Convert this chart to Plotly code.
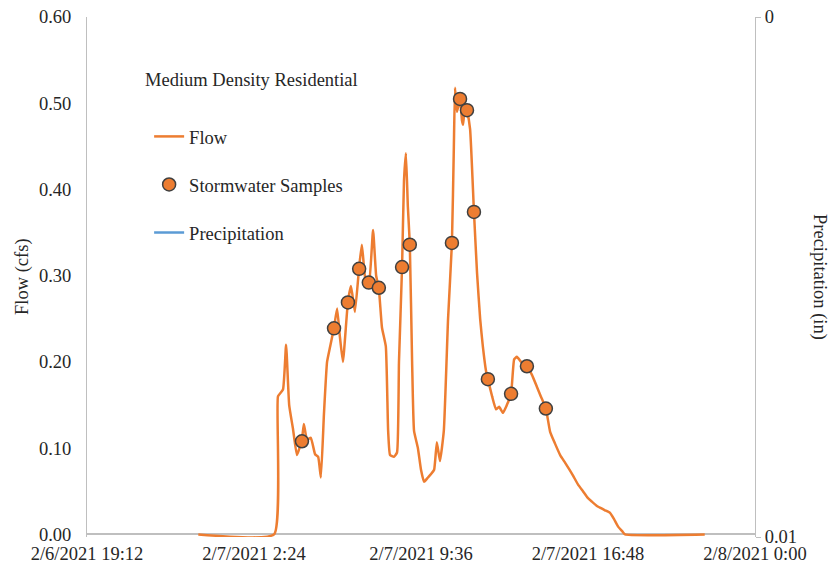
import plotly.graph_objects as go

# Flow time series (2/7/2021 times)
flow_times = ["2021-02-07 00:00", "2021-02-07 03:16", "2021-02-07 03:26", "2021-02-07 03:39", "2021-02-07 03:47",
              "2021-02-07 03:55", "2021-02-07 04:05", "2021-02-07 04:15", "2021-02-07 04:28", "2021-02-07 04:33",
              "2021-02-07 04:41", "2021-02-07 04:51", "2021-02-07 05:02", "2021-02-07 05:10", "2021-02-07 05:17",
              "2021-02-07 05:25", "2021-02-07 05:33", "2021-02-07 05:41", "2021-02-07 05:51", "2021-02-07 05:59",
              "2021-02-07 06:06", "2021-02-07 06:14", "2021-02-07 06:27", "2021-02-07 06:35", "2021-02-07 06:45",
              "2021-02-07 06:56", "2021-02-07 07:03", "2021-02-07 07:14", "2021-02-07 07:21", "2021-02-07 07:32",
              "2021-02-07 07:40", "2021-02-07 07:47", "2021-02-07 07:55", "2021-02-07 08:05", "2021-02-07 08:11",
              "2021-02-07 08:16", "2021-02-07 08:26", "2021-02-07 08:34", "2021-02-07 08:39", "2021-02-07 08:47",
              "2021-02-07 08:52", "2021-02-07 08:57", "2021-02-07 09:02", "2021-02-07 09:07", "2021-02-07 09:13",
              "2021-02-07 09:18", "2021-02-07 09:28", "2021-02-07 09:36", "2021-02-07 09:44", "2021-02-07 09:54",
              "2021-02-07 10:02", "2021-02-07 10:10", "2021-02-07 10:17", "2021-02-07 10:25", "2021-02-07 10:35",
              "2021-02-07 10:46", "2021-02-07 10:56", "2021-02-07 11:01", "2021-02-07 11:04", "2021-02-07 11:09",
              "2021-02-07 11:17", "2021-02-07 11:22", "2021-02-07 11:25", "2021-02-07 11:30", "2021-02-07 11:35",
              "2021-02-07 11:43", "2021-02-07 11:53", "2021-02-07 12:01", "2021-02-07 12:09", "2021-02-07 12:16",
              "2021-02-07 12:24", "2021-02-07 12:29", "2021-02-07 12:40", "2021-02-07 12:50", "2021-02-07 12:58",
              "2021-02-07 13:08", "2021-02-07 13:18", "2021-02-07 13:29", "2021-02-07 13:37", "2021-02-07 13:44",
              "2021-02-07 13:55", "2021-02-07 14:10", "2021-02-07 14:23", "2021-02-07 14:36", "2021-02-07 14:46",
              "2021-02-07 14:59", "2021-02-07 15:10", "2021-02-07 15:23", "2021-02-07 15:36", "2021-02-07 15:49",
              "2021-02-07 16:07", "2021-02-07 16:22", "2021-02-07 16:35", "2021-02-07 16:48", "2021-02-07 16:58",
              "2021-02-07 17:11", "2021-02-07 17:19", "2021-02-07 17:32", "2021-02-07 17:45", "2021-02-07 17:55",
              "2021-02-07 18:06", "2021-02-07 18:16", "2021-02-07 18:24", "2021-02-07 21:50"]
flow_values = [0, 0, 0.16, 0.168, 0.22,
               0.15, 0.122, 0.092, 0.11, 0.128,
               0.11, 0.112, 0.093, 0.09, 0.066,
               0.14, 0.2, 0.218, 0.24, 0.262,
               0.23, 0.2, 0.27, 0.288, 0.258,
               0.31, 0.336, 0.29, 0.29, 0.353,
               0.3, 0.285, 0.24, 0.218, 0.12,
               0.092, 0.09, 0.095, 0.2, 0.31,
               0.41, 0.442, 0.38, 0.337, 0.2,
               0.12, 0.1, 0.075, 0.061, 0.066,
               0.07, 0.075, 0.107, 0.085, 0.12,
               0.25, 0.338, 0.45, 0.518, 0.49,
               0.505, 0.48, 0.475, 0.5, 0.492,
               0.47, 0.374, 0.303, 0.25, 0.218,
               0.19, 0.18, 0.16, 0.145, 0.148,
               0.141, 0.15, 0.163, 0.203, 0.206,
               0.2, 0.195, 0.185, 0.171, 0.16,
               0.146, 0.119, 0.105, 0.092, 0.083,
               0.07, 0.058, 0.05, 0.042, 0.038,
               0.033, 0.031, 0.028, 0.025, 0.018,
               0.009, 0.004, 0, 0]

sample_times = ["2021-02-07 04:28", "2021-02-07 05:51", "2021-02-07 06:27", "2021-02-07 06:56",
                "2021-02-07 07:21", "2021-02-07 07:47", "2021-02-07 08:47", "2021-02-07 09:07",
                "2021-02-07 10:56", "2021-02-07 11:17", "2021-02-07 11:35", "2021-02-07 11:53",
                "2021-02-07 12:29", "2021-02-07 13:29", "2021-02-07 14:10", "2021-02-07 14:59"]
sample_values = [0.108, 0.239, 0.269, 0.308,
                 0.292, 0.286, 0.31, 0.336,
                 0.338, 0.505, 0.492, 0.374,
                 0.18, 0.163, 0.195, 0.146]

precip_times = ["2021-02-07 00:00", "2021-02-07 21:50"]
precip_values = [0, 0]

x_tick_vals = ["2021-02-06 19:12", "2021-02-07 02:24", "2021-02-07 09:36", "2021-02-07 16:48", "2021-02-08 00:00"]
x_tick_text = ["2/6/2021 19:12", "2/7/2021 2:24", "2/7/2021 9:36", "2/7/2021 16:48", "2/8/2021 0:00"]
y_tick_vals = [0, 0.1, 0.2, 0.3, 0.4, 0.5, 0.6]
y_tick_text = ["0.00", "0.10", "0.20", "0.30", "0.40", "0.50", "0.60"]
y2_tick_vals = [0.001, 0.01]
y2_tick_text = ["0", "0.01"]

FONT = "Liberation Serif, Times New Roman, DejaVu Serif, serif"
FS = 18.5
ORANGE = "#ED7D31"
BLUE = "#5B9BD5"
AXIS = "#BFBFBF"
TXT = "#262626"

fig = go.Figure()
fig.add_trace(go.Scatter(x=flow_times, y=flow_values, mode="lines", name="Flow",
                         line=dict(color=ORANGE, width=2.5, shape="spline", smoothing=0.4),
                         legendgroup="a"))
fig.add_trace(go.Scatter(x=sample_times, y=sample_values, mode="markers", name="Stormwater Samples",
                         marker=dict(color=ORANGE, size=13, line=dict(color="#404040", width=1.5)),
                         legendgroup="b"))
fig.add_trace(go.Scatter(x=precip_times, y=precip_values, mode="lines", name="Precipitation",
                         line=dict(color=BLUE, width=2.5), yaxis="y2", legendgroup="c"))

fig.update_layout(
    width=830, height=569,
    margin=dict(l=87, r=75, t=17, b=32),
    paper_bgcolor="white", plot_bgcolor="white",
    font=dict(family=FONT, size=FS, color=TXT),
    showlegend=True,
    legend=dict(x=0.093, y=0.806, xanchor="left", yanchor="top",
                traceorder="grouped", tracegroupgap=21,
                bgcolor="rgba(0,0,0,0)", font=dict(family=FONT, size=FS, color=TXT),
                itemwidth=30),
    xaxis=dict(type="date", range=["2021-02-06 19:12", "2021-02-08 00:00"],
               tickvals=x_tick_vals, ticktext=x_tick_text, showgrid=False, automargin=False,
               showline=False, ticks="", zeroline=False, ticklabelstandoff=3,
               tickfont=dict(family=FONT, size=FS, color=TXT)),
    yaxis=dict(range=[-0.003, 0.6], tickvals=y_tick_vals, ticktext=y_tick_text, showgrid=False,
               showline=True, linecolor=AXIS, linewidth=1, ticks="", automargin=False,
               zeroline=True, zerolinecolor=AXIS, zerolinewidth=1.5,
               layer="below traces", ticklabelstandoff=11,
               tickfont=dict(family=FONT, size=FS, color=TXT)),
    yaxis2=dict(type="log", overlaying="y", side="right", range=[-2, -3],
                tickvals=y2_tick_vals, ticktext=y2_tick_text, showgrid=False, automargin=False,
                showline=True, linecolor=AXIS, linewidth=1, ticks="outside", ticklen=5,
                tickcolor=AXIS, zeroline=False, layer="below traces",
                tickfont=dict(family=FONT, size=FS, color=TXT)),
    annotations=[
        dict(text="Medium Density Residential", xref="paper", yref="paper",
             x=(143 - 87) / 668, y=1 - (80 - 17) / 520, xanchor="left", yanchor="middle",
             showarrow=False, font=dict(family=FONT, size=FS, color=TXT)),
        dict(text="Flow (cfs)", xref="paper", yref="paper", x=(22 - 87) / 668, y=0.5,
             xanchor="center", yanchor="middle", textangle=-90, showarrow=False,
             font=dict(family=FONT, size=FS, color=TXT)),
        dict(text="Precipitation (in)", xref="paper", yref="paper", x=(820 - 87) / 668, y=0.5,
             xanchor="center", yanchor="middle", textangle=90, showarrow=False,
             font=dict(family=FONT, size=FS, color=TXT)),
    ],
)

fig.write_html("out.html")
